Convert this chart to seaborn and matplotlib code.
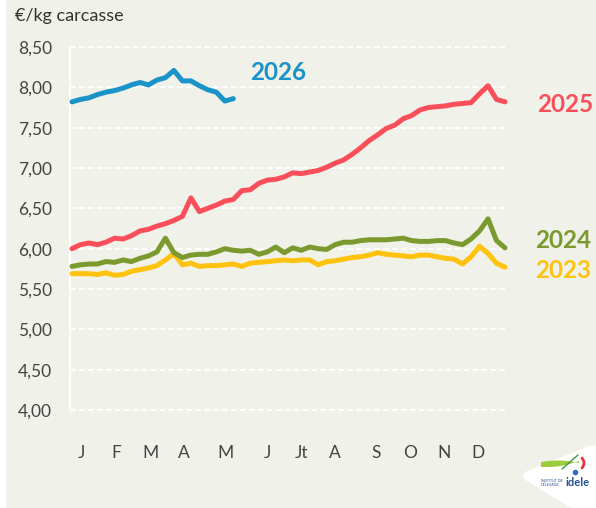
import matplotlib
matplotlib.use("Agg")
import matplotlib.pyplot as plt
from matplotlib.patches import Rectangle, Polygon
import numpy as np
import pandas as pd
import seaborn as sns

# Weekly carcass price, €/kg
prix_2023 = [5.69, 5.69, 5.69, 5.68, 5.70, 5.67, 5.68, 5.72, 5.74, 5.76, 5.79, 5.86, 5.94,
             5.80, 5.82, 5.78, 5.79, 5.79, 5.80, 5.81, 5.78, 5.82, 5.83, 5.84, 5.85, 5.86,
             5.85, 5.86, 5.86, 5.80, 5.84, 5.85, 5.87, 5.89, 5.90, 5.92, 5.95, 5.93, 5.92,
             5.91, 5.90, 5.92, 5.92, 5.90, 5.88, 5.87, 5.81, 5.90, 6.03, 5.94, 5.82, 5.77]
prix_2024 = [5.78, 5.80, 5.81, 5.81, 5.84, 5.83, 5.86, 5.84, 5.88, 5.91, 5.96, 6.13, 5.95,
             5.89, 5.92, 5.93, 5.93, 5.96, 6.00, 5.98, 5.97, 5.98, 5.93, 5.96, 6.02, 5.95,
             6.01, 5.98, 6.02, 6.00, 5.99, 6.05, 6.08, 6.08, 6.10, 6.11, 6.11, 6.11, 6.12,
             6.13, 6.10, 6.09, 6.09, 6.10, 6.10, 6.07, 6.05, 6.12, 6.22, 6.37, 6.10, 6.01]
prix_2025 = [6.00, 6.05, 6.07, 6.05, 6.08, 6.13, 6.12, 6.16, 6.22, 6.24, 6.28, 6.31, 6.35,
             6.40, 6.63, 6.46, 6.50, 6.54, 6.59, 6.61, 6.72, 6.73, 6.81, 6.85, 6.86, 6.89,
             6.94, 6.93, 6.95, 6.97, 7.01, 7.06, 7.10, 7.17, 7.25, 7.34, 7.41, 7.49, 7.53,
             7.61, 7.65, 7.72, 7.75, 7.76, 7.77, 7.79, 7.80, 7.81, 7.92, 8.02, 7.85, 7.82]
prix_2026 = [7.82, 7.85, 7.87, 7.91, 7.94, 7.96, 7.99, 8.03, 8.06, 8.03, 8.09, 8.12, 8.21,
             8.08, 8.08, 8.02, 7.97, 7.94, 7.83, 7.86]

annees = ["2023", "2024", "2025", "2026"]
couleurs = {"2023": "#ffc20e", "2024": "#7a9a2f", "2025": "#fa4f5a", "2026": "#1a93c9"}

mois = ["J", "F", "M", "A", "M", "J", "Jt", "A", "S", "O", "N", "D"]
pos_mois = [2.1, 6.2, 10.2, 14.2, 19.1, 24.0, 28.0, 32.0, 36.8, 40.8, 44.8, 48.8]
yticks = [4.0, 4.5, 5.0, 5.5, 6.0, 6.5, 7.0, 7.5, 8.0, 8.5]

series = {"2023": prix_2023, "2024": prix_2024, "2025": prix_2025, "2026": prix_2026}
df = pd.concat(
    [pd.DataFrame({"semaine": np.arange(1, len(v) + 1), "prix": v, "annee": a})
     for a, v in series.items()],
    ignore_index=True,
)

BG = "#f0f1e8"
TXT = "#444444"

sns.set_theme(style="white")
plt.rcParams["font.family"] = ["Lato", "DejaVu Sans"]

W, H = 596, 508
fig = plt.figure(figsize=(W / 100, H / 100), dpi=100, facecolor=BG)
ax = fig.add_axes([70 / W, 1 - 410 / H, (507 - 70) / W, (410 - 47) / H])
ax.set_facecolor(BG)


def px(x, y):
    """Pixel position (from top-left) to figure fraction."""
    return (np.asarray(x) / W, 1 - np.asarray(y) / H)


# white strip along the left edge
fig.add_artist(Rectangle((0, 0), 6 / W, 1, transform=fig.transFigure,
                         facecolor="white", edgecolor="none", zorder=0))

# horizontal dashed grid
for yv in yticks:
    ax.axhline(yv, color="white", lw=1.4, ls=(0, (3, 1.6)), zorder=1, clip_on=False)

sns.lineplot(data=df, x="semaine", y="prix", hue="annee", hue_order=annees,
             palette=couleurs, lw=3.6, legend=False, ax=ax, zorder=3)
for ln in ax.get_lines():
    ln.set_solid_capstyle("round")
    ln.set_solid_joinstyle("round")
    ln.set_clip_on(False)

x0 = 1 - 2 / 8.49
x1 = 52 + 2 / 8.49
ax.set_xlim(x0, x1)
ax.set_ylim(4.0, 8.5)

for s in ["top", "right", "bottom"]:
    ax.spines[s].set_visible(False)
ax.spines["left"].set_color("white")
ax.spines["left"].set_linewidth(1.4)

ax.set_yticks(yticks)
ax.set_yticklabels([f"{v:.2f}".replace(".", ",") for v in yticks])
ax.tick_params(axis="y", length=0, pad=13, labelsize=12.5, labelcolor=TXT)

ax.set_xticks(pos_mois)
ax.set_xticklabels(mois)
ax.set_xticks(np.linspace(x0, x1, 14), minor=True)
ax.tick_params(axis="x", which="major", length=0, pad=25, labelsize=12.5, labelcolor=TXT)
ax.tick_params(axis="x", which="minor", length=4, width=1.2, color="white", direction="out")
ax.set_xlabel("")
ax.set_ylabel("")

fig.text(15 / W, 1 - 16 / H, "€/kg carcasse", fontsize=13, color="#333333",
         ha="left", va="center")

# year labels
libelles = [("2026", 250, 73), ("2025", 537, 104), ("2024", 535, 240), ("2023", 535, 270)]
for a, lxp, lyp in libelles:
    fig.text(lxp / W, 1 - lyp / H, a, fontsize=17.5, fontweight="bold",
             color=couleurs[a], ha="left", va="center")

# logo badge
bx, by = px([528, 592, 600, 584], [476, 450, 510, 510])
fig.add_artist(Polygon(np.column_stack([bx, by]), closed=True, transform=fig.transFigure,
                       facecolor="white", edgecolor="white", lw=7, joinstyle="round",
                       zorder=5))
tt = np.linspace(0, 1, 40)
# lime swoosh (filled crescent)
sx = 541 + 38 * tt
top_y = 462 - 2 * np.sin(np.pi * tt) + 1 * tt
bot_y = 466 + 2 * np.sin(np.pi * tt) - 6 * tt
cx, cy = px(np.concatenate([sx, sx[::-1]]), np.concatenate([top_y + 3 * np.sin(np.pi * tt) * 0, bot_y[::-1] + 1]))
fig.add_artist(Polygon(np.column_stack([cx, cy]), closed=True, transform=fig.transFigure,
                       facecolor="#9ccc3c", edgecolor="none", zorder=6))
gx, gy = px(562 + 16 * tt, 469 - 14 * tt)
fig.add_artist(plt.Line2D(gx, gy, transform=fig.transFigure, color="#3f9a3a", lw=1.0, zorder=7))
rx, ry = px(582 + 2 * np.sin(np.pi * tt), 458 + 10 * tt)
fig.add_artist(plt.Line2D(rx, ry, transform=fig.transFigure, color="#e8343c", lw=2.0, zorder=7))
dx, dy = px(575, 472)
fig.add_artist(plt.Line2D([dx], [dy], transform=fig.transFigure, marker="o", ms=3,
                          color="#2a6cc0", lw=0, zorder=7))
fig.text(541 / W, 1 - 482.5 / H, "INSTITUT DE\nL'ÉLEVAGE", fontsize=2.6,
         color="#1f4f9a", ha="left", va="center", zorder=7, linespacing=1.0)
fig.text(565 / W, 1 - 482.5 / H, "idele", fontsize=8, fontweight="bold",
         color="#1f4f9a", ha="left", va="center", zorder=7)

fig.savefig("out.png", dpi=100, facecolor=BG)
